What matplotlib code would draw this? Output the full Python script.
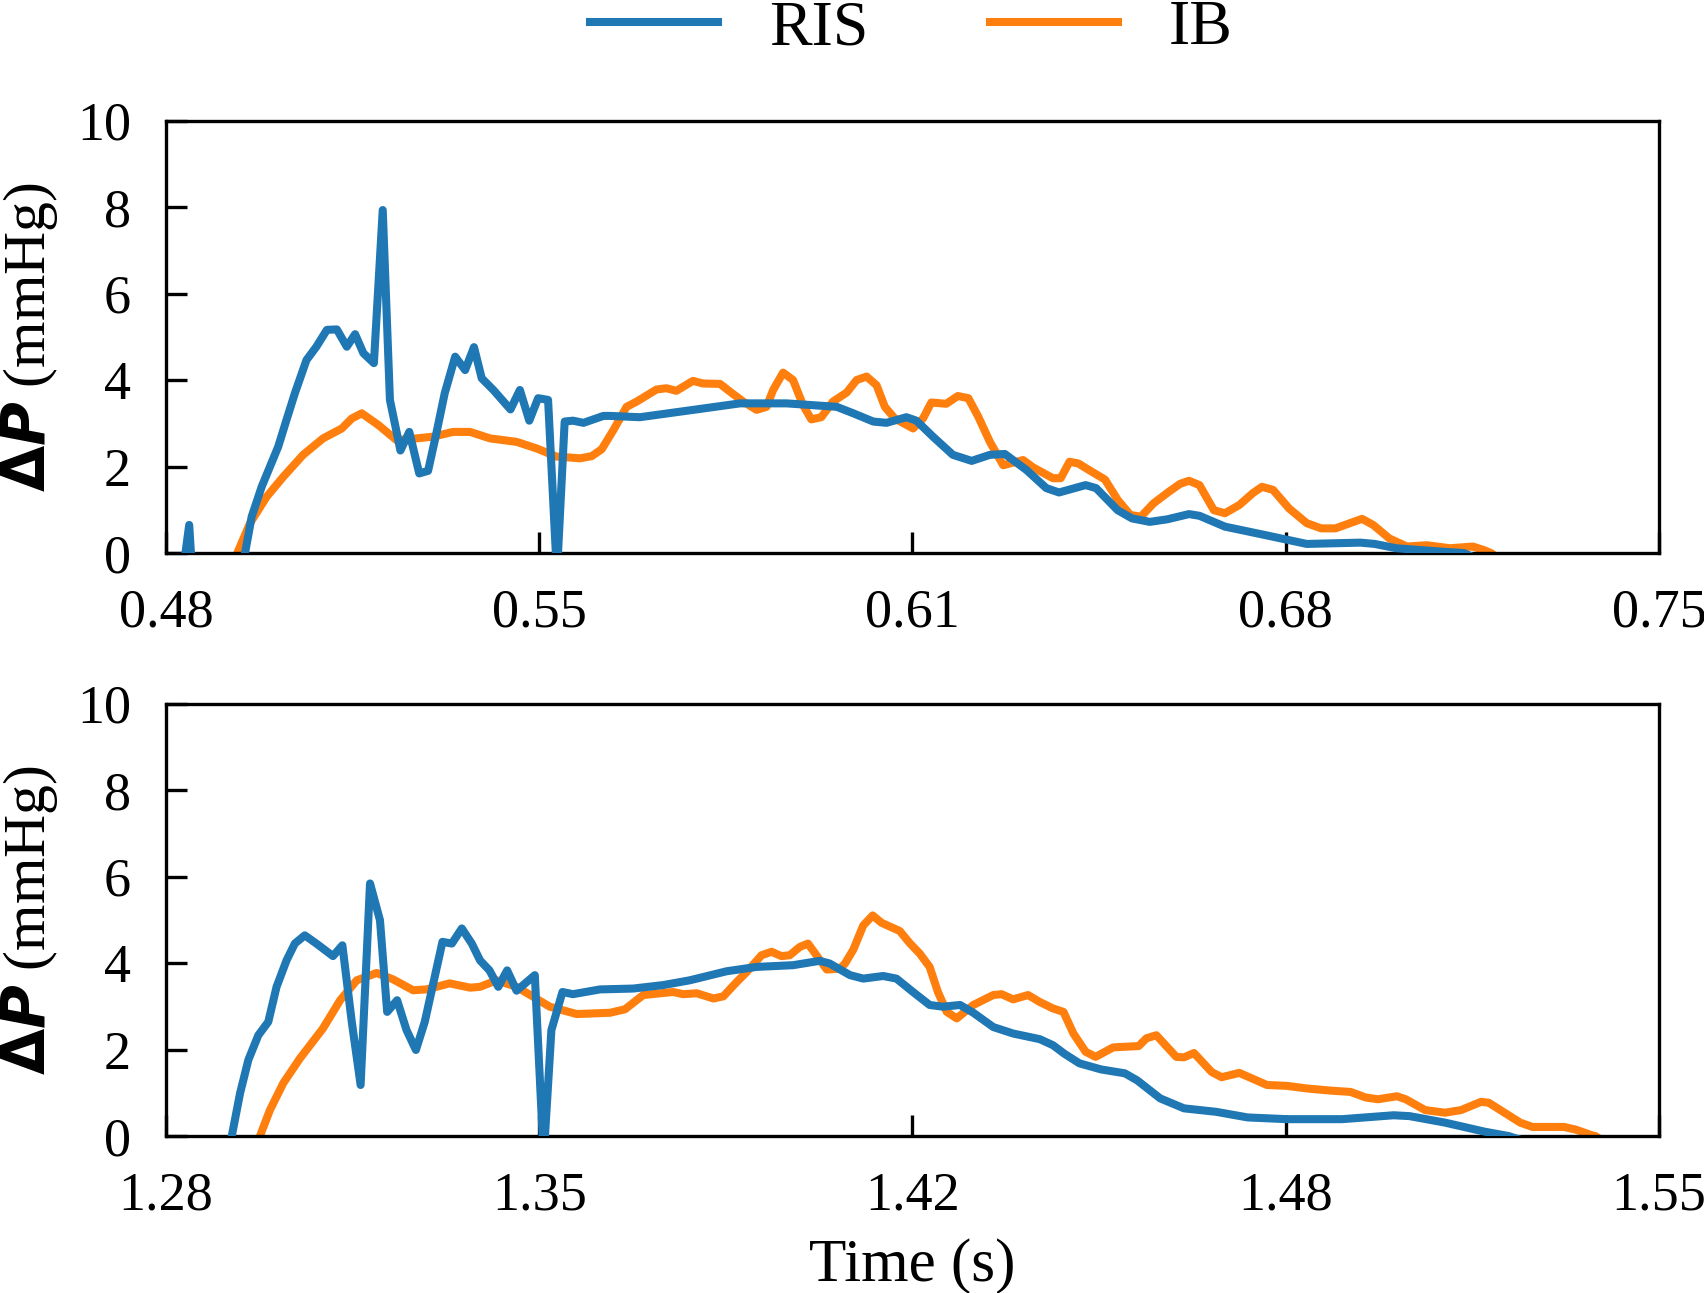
import matplotlib
matplotlib.use("Agg")
import matplotlib.pyplot as plt
import numpy as np

plt.rcParams['font.family'] = ['Liberation Serif', 'DejaVu Serif']
plt.rcParams['mathtext.fontset'] = 'dejavusans'

# first beat (top panel)
t_ris_1 = [0.4800, 0.4829, 0.4842, 0.4850, 0.4930, 0.4943, 0.4955, 0.4973, 0.5003, 0.5018,
           0.5033, 0.5054, 0.5072, 0.5091, 0.5109, 0.5127, 0.5142, 0.5157, 0.5176, 0.5192,
           0.5205, 0.5224, 0.5240, 0.5258, 0.5274, 0.5289, 0.5304, 0.5323, 0.5341, 0.5357,
           0.5371, 0.5392, 0.5423, 0.5440, 0.5457, 0.5473, 0.5491, 0.5507, 0.5521, 0.5536,
           0.5555, 0.5591, 0.5603, 0.5657, 0.5765, 0.5838, 0.5922, 0.6013, 0.6043, 0.6079,
           0.6103, 0.6139, 0.6157, 0.6187, 0.6223, 0.6257, 0.6290, 0.6317, 0.6356, 0.6392,
           0.6415, 0.6463, 0.6482, 0.6521, 0.6547, 0.6579, 0.6611, 0.6650, 0.6669, 0.6715,
           0.6786, 0.6863, 0.6960, 0.6986, 0.7025, 0.7109, 0.7147, 0.7200, 0.7500]
p_ris_1 = [-1.0, -0.6, 0.65, -1.0, -1.0, 0.0, 0.84, 1.53, 2.46, 3.08,
           3.69, 4.46, 4.77, 5.16, 5.17, 4.77, 5.06, 4.62, 4.39, 7.93,
           3.54, 2.37, 2.80, 1.84, 1.90, 2.77, 3.69, 4.54, 4.23, 4.76,
           4.04, 3.77, 3.32, 3.77, 3.06, 3.58, 3.54, -0.5, 3.04, 3.06,
           3.01, 3.17, 3.17, 3.14, 3.33, 3.46, 3.46, 3.38, 3.23, 3.04,
           3.01, 3.14, 3.06, 2.69, 2.27, 2.13, 2.27, 2.29, 1.92, 1.50,
           1.40, 1.57, 1.50, 0.99, 0.80, 0.72, 0.78, 0.90, 0.86, 0.61,
           0.42, 0.21, 0.24, 0.21, 0.11, 0.03, 0.0, -0.3, -0.5]

t_ib_1 = [0.4800, 0.4915, 0.4929, 0.4952, 0.4982, 0.5012, 0.5048, 0.5084, 0.5118, 0.5136,
          0.5154, 0.5184, 0.5217, 0.5253, 0.5283, 0.5319, 0.5350, 0.5386, 0.5434, 0.5470,
          0.5506, 0.5549, 0.5570, 0.5588, 0.5609, 0.5633, 0.5651, 0.5687, 0.5705, 0.5723,
          0.5753, 0.5771, 0.5802, 0.5820, 0.5844, 0.5868, 0.5886, 0.5898, 0.5916, 0.5934,
          0.5952, 0.5967, 0.5985, 0.6006, 0.6031, 0.6049, 0.6067, 0.6085, 0.6100, 0.6118,
          0.6151, 0.6169, 0.6184, 0.6211, 0.6232, 0.6251, 0.6269, 0.6290, 0.6314, 0.6350,
          0.6368, 0.6404, 0.6418, 0.6434, 0.6450, 0.6469, 0.6498, 0.6521, 0.6544, 0.6563,
          0.6586, 0.6614, 0.6634, 0.6650, 0.6669, 0.6695, 0.6715, 0.6741, 0.6766, 0.6782,
          0.6802, 0.6831, 0.6863, 0.6889, 0.6915, 0.6941, 0.6963, 0.6983, 0.7012, 0.7044,
          0.7080, 0.7122, 0.7163, 0.7183, 0.7196, 0.7230, 0.7500]
p_ib_1 = [-1.5, -0.6, 0.0, 0.69, 1.30, 1.76, 2.27, 2.65, 2.88, 3.11,
          3.23, 2.96, 2.61, 2.65, 2.69, 2.80, 2.80, 2.65, 2.57, 2.42,
          2.23, 2.19, 2.24, 2.40, 2.84, 3.38, 3.50, 3.78, 3.81, 3.75,
          3.98, 3.92, 3.91, 3.73, 3.50, 3.31, 3.38, 3.77, 4.17, 4.00,
          3.42, 3.09, 3.14, 3.50, 3.71, 4.00, 4.08, 3.88, 3.38, 3.11,
          2.88, 3.11, 3.48, 3.45, 3.63, 3.58, 3.15, 2.57, 2.03, 2.15,
          1.98, 1.73, 1.73, 2.11, 2.07, 1.92, 1.70, 1.23, 0.88, 0.84,
          1.15, 1.42, 1.60, 1.67, 1.57, 0.99, 0.92, 1.11, 1.39, 1.53,
          1.46, 1.03, 0.69, 0.57, 0.57, 0.69, 0.79, 0.65, 0.34, 0.15,
          0.18, 0.11, 0.15, 0.07, 0.0, -0.3, -0.5]

# second beat (bottom panel)
t_ris_2 = [1.2800, 1.2910, 1.2919, 1.2934, 1.2949, 1.2967, 1.2985, 1.3000, 1.3018, 1.3033,
           1.3051, 1.3072, 1.3102, 1.3119, 1.3136, 1.3152, 1.3169, 1.3187, 1.3200, 1.3218,
           1.3235, 1.3252, 1.3268, 1.3300, 1.3317, 1.3335, 1.3353, 1.3368, 1.3385, 1.3401,
           1.3417, 1.3434, 1.3467, 1.3483, 1.3497, 1.3517, 1.3536, 1.3585, 1.3645, 1.3699,
           1.3747, 1.3814, 1.3868, 1.3934, 1.3982, 1.4000, 1.4037, 1.4061, 1.4097, 1.4121,
           1.4151, 1.4181, 1.4205, 1.4236, 1.4260, 1.4296, 1.4332, 1.4380, 1.4404, 1.4425,
           1.4452, 1.4491, 1.4534, 1.4556, 1.4598, 1.4641, 1.4699, 1.4756, 1.4827, 1.4927,
           1.5020, 1.5049, 1.5113, 1.5185, 1.5228, 1.5300, 1.5500]
p_ris_2 = [-1.0, -0.6, 0.0, 0.99, 1.76, 2.33, 2.64, 3.45, 4.06, 4.45,
           4.64, 4.45, 4.16, 4.41, 2.64, 1.18, 5.84, 4.99, 2.87, 3.14,
           2.45, 1.99, 2.64, 4.49, 4.45, 4.80, 4.45, 4.06, 3.83, 3.45,
           3.83, 3.36, 3.72, -0.5, 2.45, 3.33, 3.28, 3.39, 3.41, 3.49,
           3.60, 3.81, 3.91, 3.95, 4.05, 3.99, 3.72, 3.64, 3.70, 3.64,
           3.33, 3.03, 2.99, 3.03, 2.85, 2.52, 2.37, 2.24, 2.10, 1.90,
           1.68, 1.54, 1.45, 1.29, 0.87, 0.64, 0.56, 0.43, 0.39, 0.39,
           0.48, 0.46, 0.31, 0.10, 0.0, -0.3, -0.5]

t_ib_2 = [1.2800, 1.2955, 1.2970, 1.2988, 1.3012, 1.3042, 1.3084, 1.3115, 1.3145, 1.3181,
          1.3211, 1.3247, 1.3271, 1.3313, 1.3350, 1.3368, 1.3398, 1.3434, 1.3464, 1.3494,
          1.3543, 1.3603, 1.3630, 1.3663, 1.3717, 1.3735, 1.3760, 1.3790, 1.3808, 1.3832,
          1.3850, 1.3877, 1.3895, 1.3913, 1.3928, 1.3946, 1.3961, 1.3995, 1.4019, 1.4028,
          1.4043, 1.4061, 1.4078, 1.4094, 1.4127, 1.4145, 1.4163, 1.4181, 1.4196, 1.4212,
          1.4230, 1.4260, 1.4296, 1.4311, 1.4332, 1.4359, 1.4380, 1.4404, 1.4423, 1.4441,
          1.4463, 1.4481, 1.4513, 1.4559, 1.4573, 1.4591, 1.4627, 1.4641, 1.4659, 1.4691,
          1.4709, 1.4741, 1.4791, 1.4827, 1.4863, 1.4906, 1.4942, 1.4970, 1.4992, 1.5026,
          1.5042, 1.5077, 1.5113, 1.5142, 1.5178, 1.5192, 1.5249, 1.5271, 1.5328, 1.5349,
          1.5378, 1.5385, 1.5420, 1.5500]
p_ib_2 = [-1.0, -0.5, 0.0, 0.60, 1.22, 1.79, 2.49, 3.14, 3.60, 3.77,
          3.62, 3.37, 3.39, 3.53, 3.43, 3.45, 3.60, 3.45, 3.22, 2.99,
          2.82, 2.85, 2.93, 3.26, 3.33, 3.28, 3.30, 3.18, 3.23, 3.56,
          3.79, 4.18, 4.26, 4.16, 4.18, 4.37, 4.45, 3.85, 3.87, 3.99,
          4.31, 4.87, 5.10, 4.93, 4.74, 4.46, 4.22, 3.91, 3.33, 2.87,
          2.72, 3.03, 3.26, 3.28, 3.16, 3.26, 3.10, 2.95, 2.87, 2.37,
          1.95, 1.83, 2.05, 2.08, 2.26, 2.33, 1.83, 1.82, 1.92, 1.48,
          1.36, 1.46, 1.18, 1.16, 1.10, 1.05, 1.02, 0.89, 0.85, 0.92,
          0.85, 0.60, 0.54, 0.60, 0.79, 0.77, 0.31, 0.21, 0.21, 0.15,
          0.02, 0.0, -0.3, -0.5]

xlims = [(0.48, 0.75), (1.28, 1.55)]
xlabels = [["0.48", "0.55", "0.61", "0.68", "0.75"],
           ["1.28", "1.35", "1.42", "1.48", "1.55"]]
yticks = [0, 2, 4, 6, 8, 10]

blue = '#1f77b4'
orange = '#ff7f0e'

fig = plt.figure(figsize=(8.52, 6.465), dpi=200)
ax1 = fig.add_axes([0.0974, 0.5723, 0.8762, 0.3345])
ax2 = fig.add_axes([0.0974, 0.1214, 0.8762, 0.3345])

series = [(t_ris_1, p_ris_1, t_ib_1, p_ib_1), (t_ris_2, p_ris_2, t_ib_2, p_ib_2)]
for ax, (tr, pr, tb, pb), xl, labs in zip([ax1, ax2], series, xlims, xlabels):
    ax.plot(tr, pr, color=blue, lw=2.9, label='RIS', zorder=3)
    ax.plot(tb, pb, color=orange, lw=2.9, label='IB', zorder=2)
    ax.set_xlim(*xl)
    ax.set_ylim(0, 10)
    ax.set_xticks(np.linspace(xl[0], xl[1], 5))
    ax.set_xticklabels(labs)
    ax.set_yticks(yticks)
    ax.tick_params(direction='in', length=7.5, width=1.2, labelsize=19.5, pad=12.5,
                   top=False, right=False)
    for s in ax.spines.values():
        s.set_linewidth(1.2)
    ax.set_ylabel(r'$\mathbf{\Delta}\mathbfit{P}$ (mmHg)', fontsize=21.5)
    ax.yaxis.set_label_coords(-0.071, 0.5)

ax2.set_xlabel('Time (s)', fontsize=22, labelpad=6)

h, l = ax1.get_legend_handles_labels()
fig.legend(h, l, loc='upper center', bbox_to_anchor=(0.535, 1.045), ncol=2,
           frameon=False, fontsize=23, handlelength=2.0, handletextpad=0.8,
           columnspacing=1.9)

fig.savefig('out.png', dpi=200)
